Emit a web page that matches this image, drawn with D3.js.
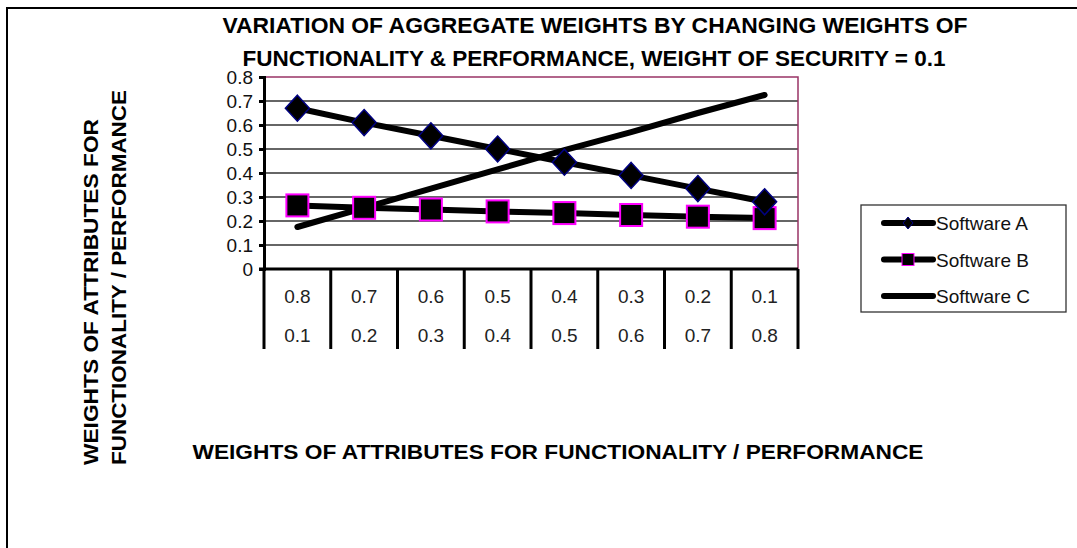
<!DOCTYPE html>
<html><head><meta charset="utf-8">
<script src="https://cdn.jsdelivr.net/npm/d3@7"></script>
<style>body{margin:0;background:#fff}svg{display:block}</style>
</head><body>
<svg id="c" width="1077" height="548"></svg>
<script>
const catsTop = ["0.8","0.7","0.6","0.5","0.4","0.3","0.2","0.1"];
const catsBottom = ["0.1","0.2","0.3","0.4","0.5","0.6","0.7","0.8"];
const softwareA = [0.67,0.61,0.555,0.50,0.445,0.39,0.335,0.28];
const softwareB = [0.265,0.255,0.248,0.24,0.233,0.225,0.218,0.212];
const softwareC = [0.175,0.255,0.335,0.415,0.495,0.57,0.65,0.725];
const yTicks = [0,0.1,0.2,0.3,0.4,0.5,0.6,0.7,0.8];
const seriesNames = ["Software A","Software B","Software C"];

const svg = d3.select("#c");
const font = "Liberation Sans, Arial, sans-serif";
const L=264, R=798, T=77, B=269;

// frame
svg.append("path").attr("d","M7,548 L7,8 L1077,8").attr("fill","none").attr("stroke","#000").attr("stroke-width",2);

const x = d3.scaleBand().domain(d3.range(8)).range([L,R]);
const y = d3.scaleLinear().domain([0,0.8]).range([B,T]);

// gridlines
svg.append("g").selectAll("line").data(yTicks.filter(v=>v>0 && v<0.8)).join("line")
  .attr("x1",L).attr("x2",R).attr("y1",d=>y(d)).attr("y2",d=>y(d))
  .attr("stroke","#333").attr("stroke-width",1.3);
// plot border top/right
svg.append("path").attr("d",`M${L},${y(0.8)} L${R},${y(0.8)} L${R},${B}`)
  .attr("fill","none").attr("stroke","#993366").attr("stroke-width",1.5);

// y axis
const yAxis = d3.axisLeft(y).tickValues(yTicks).tickSize(5).tickFormat(d=>d===0?"0":d3.format(".1f")(d));
const ga = svg.append("g").attr("transform",`translate(${L},0)`).call(yAxis);
ga.select(".domain").attr("stroke","#000").attr("stroke-width",3);
ga.selectAll(".tick line").attr("stroke","#000").attr("stroke-width",3);
ga.selectAll(".tick text").attr("font-family",font).attr("font-size",19).attr("fill","#111").attr("x",-11);

// category table
svg.append("line").attr("x1",L-5).attr("x2",R).attr("y1",B).attr("y2",B).attr("stroke","#000").attr("stroke-width",3);
const edges = d3.range(9).map(i=> i<8 ? x(i) : x(7)+x.bandwidth());
svg.append("g").selectAll("line").data(edges).join("line")
  .attr("x1",d=>d).attr("x2",d=>d).attr("y1",B).attr("y2",349)
  .attr("stroke","#000").attr("stroke-width",3);
svg.append("g").selectAll("text").data(catsTop).join("text")
  .attr("x",(d,i)=>x(i)+x.bandwidth()/2).attr("y",303).attr("text-anchor","middle")
  .attr("font-family",font).attr("font-size",19).attr("fill","#222").text(d=>d);
svg.append("g").selectAll("text").data(catsBottom).join("text")
  .attr("x",(d,i)=>x(i)+x.bandwidth()/2).attr("y",342).attr("text-anchor","middle")
  .attr("font-family",font).attr("font-size",19).attr("fill","#222").text(d=>d);

const cx = i=>x(i)+x.bandwidth()/2;
const line = d3.line().x((d,i)=>cx(i)).y(d=>y(d));
[softwareC, softwareB, softwareA].forEach(s=>{
  svg.append("path").attr("d",line(s)).attr("fill","none").attr("stroke","#000")
    .attr("stroke-width",6).attr("stroke-linecap","round");
});
// markers
svg.append("g").selectAll("rect").data(softwareB).join("rect")
  .attr("x",(d,i)=>cx(i)-11).attr("y",d=>y(d)-11).attr("width",22).attr("height",22)
  .attr("fill","#000").attr("stroke","#ff00ff").attr("stroke-width",2);
svg.append("g").selectAll("path").data(softwareA).join("path")
  .attr("d",(d,i)=>`M${cx(i)},${y(d)-13} L${cx(i)+12},${y(d)} L${cx(i)},${y(d)+13} L${cx(i)-12},${y(d)} Z`)
  .attr("fill","#000").attr("stroke","#000080").attr("stroke-width",1.5);

// titles
svg.append("text").attr("x",595).attr("y",33).attr("text-anchor","middle")
  .attr("font-family",font).attr("font-weight","bold").attr("font-size",22)
  .attr("textLength",745).attr("lengthAdjust","spacingAndGlyphs")
  .text("VARIATION OF AGGREGATE WEIGHTS BY CHANGING WEIGHTS OF");
svg.append("text").attr("x",594).attr("y",66).attr("text-anchor","middle")
  .attr("font-family",font).attr("font-weight","bold").attr("font-size",22)
  .attr("textLength",703).attr("lengthAdjust","spacingAndGlyphs")
  .text("FUNCTIONALITY & PERFORMANCE, WEIGHT OF SECURITY = 0.1");
svg.append("text").attr("x",558).attr("y",459).attr("text-anchor","middle")
  .attr("font-family",font).attr("font-weight","bold").attr("font-size",21)
  .attr("textLength",731).attr("lengthAdjust","spacingAndGlyphs")
  .text("WEIGHTS OF ATTRIBUTES FOR FUNCTIONALITY / PERFORMANCE");
svg.append("text").attr("transform","translate(98,465) rotate(-90)")
  .attr("font-family",font).attr("font-weight","bold").attr("font-size",21)
  .attr("textLength",346).attr("lengthAdjust","spacingAndGlyphs")
  .text("WEIGHTS OF ATTRIBUTES FOR");
svg.append("text").attr("transform","translate(126,465) rotate(-90)")
  .attr("font-family",font).attr("font-weight","bold").attr("font-size",21)
  .attr("textLength",375).attr("lengthAdjust","spacingAndGlyphs")
  .text("FUNCTIONALITY / PERFORMANCE");

// legend
const lg = svg.append("g");
lg.append("rect").attr("x",861).attr("y",205).attr("width",205).attr("height",107)
  .attr("fill","#fff").attr("stroke","#333").attr("stroke-width",1.3);
const ly = d3.scalePoint().domain(seriesNames).range([223,296]);
seriesNames.forEach(n=>{
  const yy = ly(n);
  lg.append("line").attr("x1",884).attr("x2",933).attr("y1",yy).attr("y2",yy)
    .attr("stroke","#000").attr("stroke-width",6).attr("stroke-linecap","round");
  if(n==="Software A") lg.append("path").attr("d",`M908,${yy-6} L913,${yy} L908,${yy+6} L903,${yy} Z`)
    .attr("fill","#000").attr("stroke","#000080").attr("stroke-width",1);
  if(n==="Software B") lg.append("rect").attr("x",902).attr("y",yy-6).attr("width",12).attr("height",12)
    .attr("fill","#000").attr("stroke","#ff00ff").attr("stroke-width",1);
  lg.append("text").attr("x",936).attr("y",yy+7).attr("font-family",font).attr("font-size",19)
    .attr("fill","#111").text(n);
});
</script>
</body></html>
